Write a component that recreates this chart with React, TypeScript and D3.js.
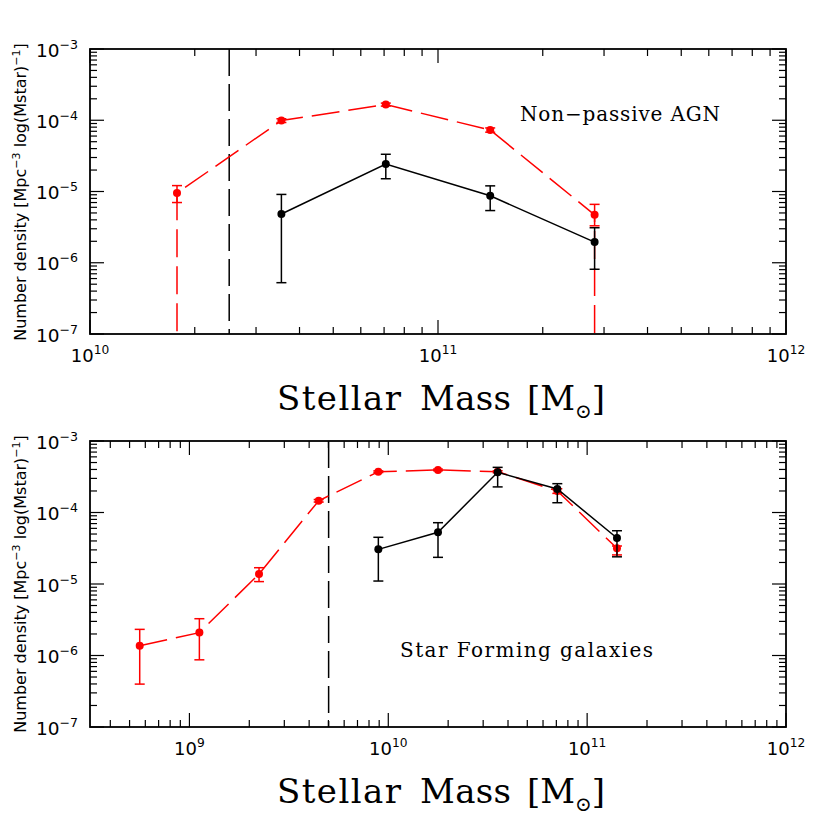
import React from "react";
import * as d3 from "d3";

// ---- data ----
// top panel: Non-passive AGN
const agnMass = [10 ** 10.25, 10 ** 10.55, 10 ** 10.85, 10 ** 11.15, 10 ** 11.45];
const agnAllVal = [9.5e-6, 9.9e-5, 1.66e-4, 7.3e-5, 4.7e-6];
const agnAllLo = [7.0e-6, 9.3e-5, 1.58e-4, 6.8e-5, 3.3e-6];
const agnAllHi = [1.21e-5, 1.05e-4, 1.74e-4, 7.8e-5, 6.6e-6];

const agnSelMass = [10 ** 10.55, 10 ** 10.85, 10 ** 11.15, 10 ** 11.45];
const agnSelVal = [4.83e-6, 2.43e-5, 8.7e-6, 1.95e-6];
const agnSelLo = [5.25e-7, 1.51e-5, 5.4e-6, 8.1e-7];
const agnSelHi = [9.1e-6, 3.33e-5, 1.2e-5, 3.1e-6];

// bottom panel: Star forming galaxies
const sfMass = [10 ** 8.75, 10 ** 9.05, 10 ** 9.35, 10 ** 9.65, 10 ** 9.95, 10 ** 10.25, 10 ** 10.55, 10 ** 10.85, 10 ** 11.15];
const sfAllVal = [1.37e-6, 2.09e-6, 1.38e-5, 1.46e-4, 3.72e-4, 3.94e-4, 3.72e-4, 2.0e-4, 3.16e-5];
const sfAllLo = [3.98e-7, 8.7e-7, 1.08e-5, 1.4e-4, 3.62e-4, 3.84e-4, 3.6e-4, 1.85e-4, 2.55e-5];
const sfAllHi = [2.32e-6, 3.27e-6, 1.69e-5, 1.52e-4, 3.82e-4, 4.04e-4, 3.84e-4, 2.15e-4, 3.4e-5];

const sfSelMass = [10 ** 9.95, 10 ** 10.25, 10 ** 10.55, 10 ** 10.85, 10 ** 11.15];
const sfSelVal = [3.05e-5, 5.28e-5, 3.65e-4, 2.13e-4, 4.4e-5];
const sfSelLo = [1.1e-5, 2.36e-5, 2.28e-4, 1.37e-4, 2.4e-5];
const sfSelHi = [4.5e-5, 7.2e-5, 4.28e-4, 2.53e-4, 5.56e-5];

const yTickExp = [-7, -6, -5, -4, -3];
const agnCut = 10 ** 10.4;
const sfCut = 10 ** 9.7;

const W = 830;
const left = 90;
const right = 786;

type Series = {
  x: number[];
  v: number[];
  lo: number[];
  hi: number[];
  color: string;
  dashed: boolean;
  drop?: boolean;
};

const sup = (base: string, exp: string, size: number, anchor: string, x: number, y: number, key: string) => (
  <text key={key} x={x} y={y} fontSize={size} textAnchor={anchor} fontFamily="DejaVu Sans, sans-serif">
    {base}
    <tspan dy={-size * 0.42} fontSize={size * 0.68}>
      {exp}
    </tspan>
  </text>
);

const Panel = ({
  top,
  bottom,
  xMinExp,
  xTickExp,
  series,
  cut,
  label,
  labelX,
  labelY,
  labelLen,
}: {
  top: number;
  bottom: number;
  xMinExp: number;
  xTickExp: number[];
  series: Series[];
  cut: number;
  label: string;
  labelX: number;
  labelY: number;
  labelLen: number;
}) => {
  const x = d3.scaleLog().domain([10 ** xMinExp, 1e12]).range([left, right]);
  const y = d3.scaleLog().domain([1e-7, 1e-3]).range([bottom, top]);

  // minor / major ticks
  const xTicks: { v: number; major: boolean }[] = [];
  for (let e = Math.floor(xMinExp); e < 12; e++) {
    for (let k = 1; k <= 9; k++) {
      const v = k * 10 ** e;
      if (v >= 10 ** xMinExp * 0.999 && v <= 1e12) xTicks.push({ v, major: k === 1 });
    }
  }
  xTicks.push({ v: 1e12, major: true });
  const yTicks: { v: number; major: boolean }[] = [];
  for (let e = -7; e < -3; e++) {
    for (let k = 1; k <= 9; k++) yTicks.push({ v: k * 10 ** e, major: k === 1 });
  }
  yTicks.push({ v: 1e-3, major: true });

  const line = d3
    .line<[number, number]>()
    .x((d) => x(d[0]))
    .y((d) => y(d[1]));

  const axisColor = "#000";
  const yMid = top + 143;
  return (
    <g>
      <defs>
        <clipPath id={`clip${top}`}>
          <rect x={left} y={top} width={right - left} height={bottom - top} />
        </clipPath>
      </defs>
      {/* ticks */}
      {xTicks.map((t, i) => {
        const len = t.major ? 14 : 7;
        const px = x(t.v);
        return (
          <g key={`xt${i}`} stroke={axisColor} strokeWidth={1.2}>
            <line x1={px} x2={px} y1={bottom} y2={bottom - len} />
            <line x1={px} x2={px} y1={top} y2={top + len} />
          </g>
        );
      })}
      {yTicks.map((t, i) => {
        const len = t.major ? 14 : 7;
        const py = y(t.v);
        return (
          <g key={`yt${i}`} stroke={axisColor} strokeWidth={1.2}>
            <line x1={left} x2={left + len} y1={py} y2={py} />
            <line x1={right} x2={right - len} y1={py} y2={py} />
          </g>
        );
      })}
      {/* tick labels */}
      {xTickExp.map((e) => sup("10", String(e), 18, "middle", x(10 ** e), bottom + 28, `xl${e}`))}
      {yTickExp.map((e) => sup("10", "\u2212" + String(-e), 18.5, "end", left - 12, y(10 ** e) + 7.5, `yl${e}`))}

      {/* cut line */}
      <line
        x1={x(cut)}
        x2={x(cut)}
        y1={top}
        y2={bottom}
        stroke="#000"
        strokeWidth={1.5}
        strokeDasharray="27 8"
      />

      {/* series */}
      <g clipPath={`url(#clip${top})`}>
        {series.map((s, si) => {
          const pts: [number, number][] = s.x.map((xv, i) => [xv, s.v[i]]);
          if (s.drop) {
            pts.unshift([s.x[0], 1e-8]);
            pts.push([s.x[s.x.length - 1], 1e-8]);
          }
          return (
            <g key={`s${si}`}>
              <path
                d={line(pts) || ""}
                fill="none"
                stroke={s.color}
                strokeWidth={1.5}
                strokeDasharray={s.dashed ? "28 9" : undefined}
              />
              {s.x.map((xv, i) => (
                <g key={`p${i}`} stroke={s.color} strokeWidth={1.5}>
                  <line x1={x(xv)} x2={x(xv)} y1={y(s.lo[i])} y2={y(s.hi[i])} />
                  <line x1={x(xv) - 5} x2={x(xv) + 5} y1={y(s.lo[i])} y2={y(s.lo[i])} />
                  <line x1={x(xv) - 5} x2={x(xv) + 5} y1={y(s.hi[i])} y2={y(s.hi[i])} />
                  <circle cx={x(xv)} cy={y(s.v[i])} r={4} fill={s.color} stroke="none" />
                </g>
              ))}
            </g>
          );
        })}
      </g>

      {/* frame */}
      <rect x={left} y={top} width={right - left} height={bottom - top} fill="none" stroke="#000" strokeWidth={1.8} />

      {/* panel label */}
      <text
        x={labelX}
        y={labelY}
        fontSize={20}
        fontFamily="DejaVu Serif, serif"
        textLength={labelLen}
        lengthAdjust="spacing"
      >
        {label}
      </text>

      {/* axis titles */}
      <text
        transform={`translate(26,${yMid}) rotate(-90)`}
        textAnchor="middle"
        fontSize={16}
        fontFamily="DejaVu Sans, sans-serif"
      >
        Number density [Mpc
        <tspan dy={-6} fontSize={11}>
          −3
        </tspan>
        <tspan dy={6}> log(Mstar)</tspan>
        <tspan dy={-6} fontSize={11}>
          −1
        </tspan>
        <tspan dy={6}>]</tspan>
      </text>
      <text x={277} y={bottom + 76} fontSize={34} fontFamily="DejaVu Serif, serif">
        <tspan textLength={124} lengthAdjust="spacing">Stellar</tspan>
        <tspan x={420} textLength={91} lengthAdjust="spacing">Mass</tspan>
        <tspan x={527}>[M</tspan>
        <tspan dy={8} fontSize={20}>
          ⊙
        </tspan>
        <tspan dy={-8}>]</tspan>
      </text>
    </g>
  );
};

export default function App() {
  const topSeries: Series[] = [
    { x: agnMass, v: agnAllVal, lo: agnAllLo, hi: agnAllHi, color: "#ff0000", dashed: true, drop: true },
    { x: agnSelMass, v: agnSelVal, lo: agnSelLo, hi: agnSelHi, color: "#000", dashed: false },
  ];
  const botSeries: Series[] = [
    { x: sfMass, v: sfAllVal, lo: sfAllLo, hi: sfAllHi, color: "#ff0000", dashed: true },
    { x: sfSelMass, v: sfSelVal, lo: sfSelLo, hi: sfSelHi, color: "#000", dashed: false },
  ];
  return (
    <svg width={W} height={W} style={{ position: "absolute", left: 0, top: 0, background: "#fff" }}>
      <rect width={W} height={W} fill="#fff" />
      <Panel
        top={49}
        bottom={334}
        xMinExp={10}
        xTickExp={[10, 11, 12]}
        series={topSeries}
        cut={agnCut}
        label="Non−passive AGN"
        labelX={520}
        labelY={121}
        labelLen={200}
      />
      <Panel
        top={441}
        bottom={727}
        xMinExp={8.5}
        xTickExp={[9, 10, 11, 12]}
        series={botSeries}
        cut={sfCut}
        label="Star Forming galaxies"
        labelX={400}
        labelY={657}
        labelLen={253}
      />
    </svg>
  );
}
